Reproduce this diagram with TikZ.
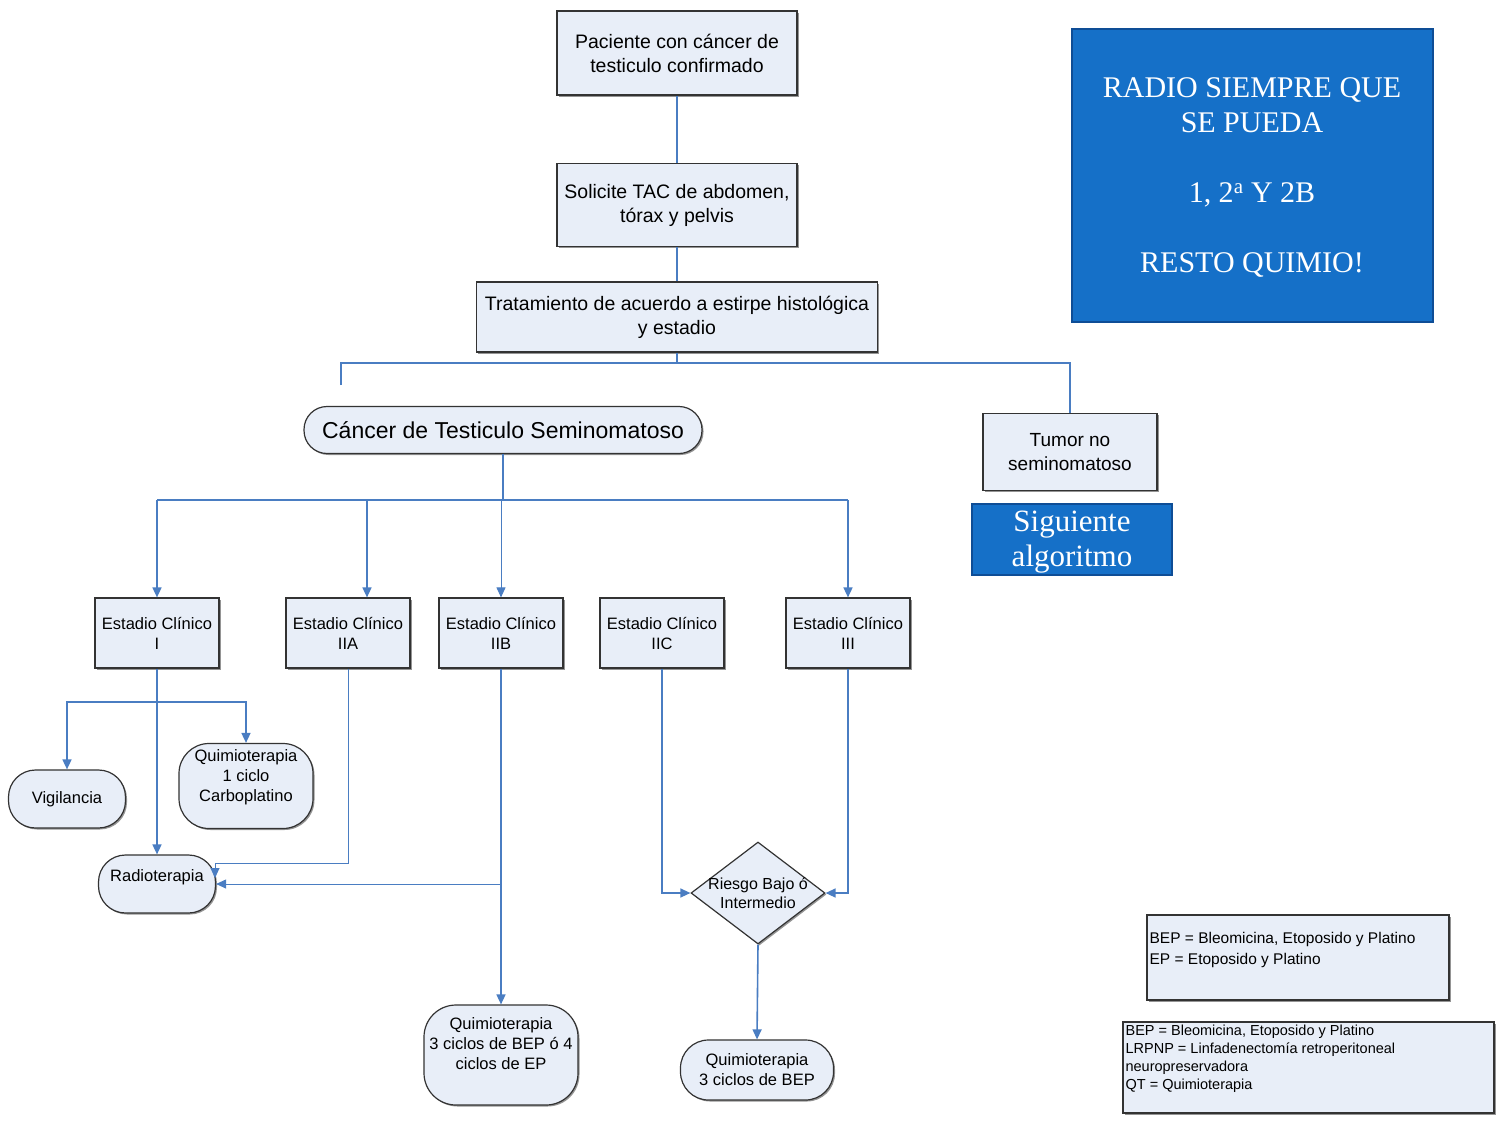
\documentclass[tikz,border=0pt]{standalone}
\usepackage{fontspec}
\setmainfont{Liberation Sans}
\newfontfamily\notefont{Liberation Serif}
\usetikzlibrary{shapes.geometric,arrows.meta,shadows}

\definecolor{linkblue}{HTML}{4A7DC2}
\definecolor{boxfill}{HTML}{E8EEF8}
\definecolor{noteblue}{HTML}{1570C8}
\definecolor{noteedge}{HTML}{0E4D96}

\tikzset{
  every box/.style={draw=black!80, fill=boxfill, line width=1.2pt, align=center, inner sep=1pt,
    drop shadow={shadow xshift=1.5pt, shadow yshift=-1.5pt, opacity=.7, fill=black!60}},
  top box/.style={every box, font=\fontsize{19.5}{24}\selectfont},
  stage box/.style={every box, font=\fontsize{16.5}{20}\selectfont,
    minimum width=124pt, minimum height=70pt},
  round box/.style={every box, font=\fontsize{16.5}{20}\selectfont},
  note box/.style={draw=noteedge, fill=noteblue, line width=2pt, text=white, align=center},
  link/.style={draw=linkblue, line width=1.6pt},
}

\begin{document}
\begin{tikzpicture}[x=1pt, y=-1pt, >={Triangle[length=10pt,width=9pt]}]
\useasboundingbox (0,0) rectangle (1500,1125);

% define top chain
\node [top box, minimum width=240pt, minimum height=84pt] (pac) at (677,53)
  {Paciente con cáncer de\\testiculo confirmado};
\node [top box, minimum width=240pt, minimum height=83pt] (tac) at (677,205)
  {Solicite TAC de abdomen,\\tórax y pelvis};
\node [top box, minimum width=401pt, minimum height=70pt] (trat) at (677,317)
  {Tratamiento de acuerdo a estirpe histológica\\y estadio};

% define branches
\node [every box, rounded corners=23pt, font=\fontsize{23}{26}\selectfont,
  minimum width=398pt, minimum height=47pt] (sem) at (503,430)
  {Cáncer de Testiculo Seminomatoso};
\node [every box, font=\fontsize{19}{24}\selectfont,
  minimum width=174pt, minimum height=77pt] (tumor) at (1070,452)
  {Tumor no\\seminomatoso};
\node [note box, font=\notefont\fontsize{31}{35}\selectfont, text depth=0pt,
  minimum width=200pt, minimum height=71pt] (sig) at (1072,539)
  {Siguiente\\algoritmo};
\node [note box, font=\notefont\fontsize{30}{35}\selectfont, text depth=0pt,
  minimum width=361pt, minimum height=293pt] (note) at (1252,175)
  {RADIO SIEMPRE QUE\\SE PUEDA\\[35pt]1, 2\textsuperscript{a} Y 2B\\[35pt]RESTO QUIMIO!};

% define stages
\foreach \m/\x in {I/157, IIA/348, IIB/501, IIC/662, III/848}
  \node [stage box] (ec-\m) at (\x,633) {Estadio Clínico\\\m};

% define treatments
\node [round box, rounded corners=27pt, minimum width=117pt, minimum height=58pt] (vig) at (67,799)
  {Vigilancia};
\node [round box, rounded corners=30pt, minimum width=134pt, minimum height=85pt, text depth=21pt] (q1) at (246,786)
  {Quimioterapia\\1 ciclo\\Carboplatino};
\node [round box, rounded corners=27pt, minimum width=117pt, minimum height=58pt, text depth=17pt] (radioterapia) at (157,884)
  {Radioterapia};
\node [round box, rounded corners=32pt, minimum width=154pt, minimum height=100pt, text depth=23pt] (q3) at (501,1055)
  {Quimioterapia\\3 ciclos de BEP ó 4\\ciclos de EP};
\node [round box, rounded corners=28pt, minimum width=153pt, minimum height=60pt] (q4) at (757,1070)
  {Quimioterapia\\3 ciclos de BEP};
\node [every box, diamond, inner sep=0pt, minimum width=134pt, minimum height=102pt] (risk) at (758,893) {};
\node [align=center, font=\fontsize{16}{19}\selectfont] (risk-text) at (risk) {Riesgo Bajo ó\\Intermedio};

% define legends
\node [every box, minimum width=302pt, minimum height=85pt] (key-a) at (1298,957.5) {};
\node [anchor=north west, inner sep=0pt, align=left, font=\fontsize{15.5}{21}\selectfont] (key-a-text)
  at ([xshift=3pt, yshift=-18pt]key-a.north west)
  {BEP = Bleomicina, Etoposido y Platino\\EP = Etoposido y Platino};
\node [every box, minimum width=371pt, minimum height=91pt] (key-b) at (1308.5,1067.5) {};
\node [anchor=north west, inner sep=0pt, align=left, font=\fontsize{14.5}{18}\selectfont] (key-b-text)
  at ([xshift=3pt, yshift=-3pt]key-b.north west)
  {BEP = Bleomicina, Etoposido y Platino\\LRPNP = Linfadenectomía retroperitoneal\\neuropreservadora\\QT = Quimioterapia};

% connect top chain
\draw [link] (pac) -- (tac);
\draw [link] (tac) -- (trat);
\coordinate (split) at (677,363);
\coordinate (seed) at (341,385);
\draw [link] (trat.south) -- (split);
\draw [link] (seed) |- (split -| tumor.north) -- (tumor.north);

% connect seminoma to stages
\coordinate (hub) at (503,500);
\draw [link] (sem.south) -- (hub);
\draw [link] (hub -| ec-I.north) -- (hub -| ec-III.north);
\foreach \m in {I,III}
  \draw [link, ->] (hub -| ec-\m.north) -- (ec-\m.north);
\draw [link, line width=1pt, ->] (hub -| ec-IIB.north) -- (ec-IIB.north);
\coordinate (iia-in) at (367,500);
\draw [link, ->] (iia-in) -- (iia-in |- ec-IIA.north);

% connect stage I
\coordinate (fork) at (157,702);
\draw [link, line width=2.2pt] (ec-I.south) -- (fork);
\draw [link, ->] (fork) -- (radioterapia.north);
\foreach \t in {vig,q1}
  \draw [link, ->] (fork) -| (\t.north);

% connect stage II
\coordinate (iia-turn) at (215,863);
\draw [link, line width=1pt, ->] (ec-IIA.south) |- (iia-turn) -- ++(0,15);
\draw [link, ->] (ec-IIB.south) -- (q3.north);
\coordinate (iib-tap) at (501,884);
\draw [link, line width=1pt, ->] (iib-tap) -- (radioterapia.east);
\draw [link, line width=1.4pt, ->] (ec-IIC.south) |- (risk.west);
\draw [link, line width=1.4pt, ->] (ec-III.south) |- (risk.east);
\draw [link, ->] (risk.south) -- (q4.north);

\end{tikzpicture}
\end{document}
